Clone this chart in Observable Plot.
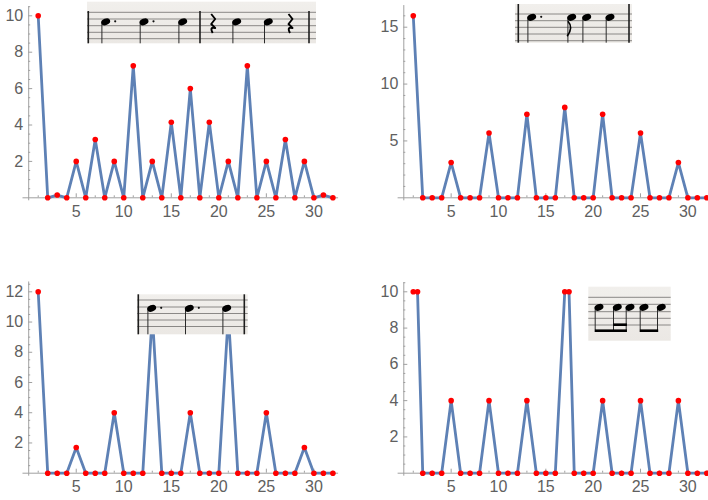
<!DOCTYPE html>
<html>
<head>
<meta charset="utf-8">
<script src="https://cdn.jsdelivr.net/npm/d3@7"></script>
<script src="https://cdn.jsdelivr.net/npm/@observablehq/plot@0.6"></script>
<style>
  html, body { margin: 0; padding: 0; background: #fff; }
  #wrap { position: relative; width: 708px; height: 500px; overflow: hidden; }
  .panel { position: absolute; width: 354px; height: 250px; }
  .panel svg { overflow: visible; }
  #music { position: absolute; left: 0; top: 0; }
</style>
</head>
<body>
<div id="wrap"></div>
<script>
// ---- data ----
const xs = d3.range(1, 33);
const panel1Y = [10,0,0.15,0,2,0,3.2,0,2,0,7.25,0,2,0,4.15,0,6,0,4.15,0,2,0,7.25,0,2,0,3.2,0,2,0,0.15,0];
const panel2Y = [16,0,0,0,3.1,0,0,0,5.7,0,0,0,7.35,0,0,0,7.95,0,0,0,7.35,0,0,0,5.7,0,0,0,3.1,0,0,0];
const panel3Y = [12,0,0,0,1.7,0,0,0,4,0,0,0,10.5,0,0,0,4,0,0,0,10.5,0,0,0,4,0,0,0,1.7,0,0,0];
const panel4X = [1,1.45,2,3,4,5,6,7,8,9,10,11,12,13,14,15,16,17,17.45,18,19,20,21,22,23,24,25,26,27,28,29,30,31,32];
const panel4Y = [10,10,0,0,0,4,0,0,0,4,0,0,0,4,0,0,0,10,10,0,0,0,4,0,0,0,4,0,0,0,4,0,0,0];

const xMajor = [5,10,15,20,25,30];
const xMinor = d3.range(1, 33).filter(d => d % 5 !== 0);
const yMajorA = [2,4,6,8,10];
const yMinorA = d3.range(0.5, 10.6, 0.5).filter(d => d % 2 !== 0);
const yMajorB = [5,10,15];
const yMinorB = d3.range(1, 17).filter(d => d % 5 !== 0);
const yMajorC = [2,4,6,8,10,12];
const yMinorC = d3.range(0.5, 12.6, 0.5).filter(d => d % 2 !== 0);

const panels = [
  {left: 0,   top: 0,   xv: xs, yv: panel1Y, yMax: 10, yTop: 10.5, yMajor: yMajorA, yMinor: yMinorA,
   m: {l: 28.2, r: 21.6, t: 15.3, b: 52.7}},
  {left: 354, top: 0,   xv: xs, yv: panel2Y, yMax: 15, yTop: 16.9, yMajor: yMajorB, yMinor: yMinorB,
   m: {l: 49.3, r: 1.7, t: 26.7, b: 52.7}},
  {left: 0,   top: 250, xv: xs, yv: panel3Y, yMax: 12, yTop: 12.65, yMajor: yMajorC, yMinor: yMinorC,
   m: {l: 28.2, r: 21.6, t: 41.3, b: 27.3}},
  {left: 354, top: 250, xv: panel4X, yv: panel4Y, yMax: 10, yTop: 10.5, yMajor: yMajorA, yMinor: yMinorA,
   m: {l: 49.3, r: 1.7, t: 41.3, b: 27.3}}
];

const wrap = document.getElementById("wrap");
const axisGray = "#a0a0a0";
const labelGray = "#606060";

for (const p of panels) {
  const data = p.xv.map((x, i) => ({x, y: p.yv[i]}));
  const yLow = -6 / ((250 - p.m.t - p.m.b) / p.yMax) * 0.5;
  const chart = Plot.plot({
    width: 354, height: 250,
    marginLeft: p.m.l, marginRight: p.m.r, marginTop: p.m.t, marginBottom: p.m.b,
    x: {domain: [0, 32], label: null},
    y: {domain: [0, p.yMax], label: null},
    style: {fontFamily: "'Liberation Sans', Arial, sans-serif", fontSize: "16px", color: labelGray, background: "transparent"},
    marks: [
      Plot.ruleY([0], {x1: -0.6, x2: 32.6, stroke: axisGray, strokeWidth: 1}),
      Plot.ruleX([0], {y1: yLow, y2: p.yTop, stroke: axisGray, strokeWidth: 1}),
      Plot.axisX({ticks: xMajor, tickSize: -4, tickPadding: 11.5, stroke: axisGray, fill: labelGray, label: null}),
      Plot.axisX({ticks: xMinor, tickSize: -2, tickFormat: () => "", stroke: axisGray, label: null}),
      Plot.axisY({ticks: p.yMajor, tickSize: -4, tickPadding: 9.5, stroke: axisGray, fill: labelGray, label: null}),
      Plot.axisY({ticks: p.yMinor, tickSize: -2, tickFormat: () => "", stroke: axisGray, label: null}),
      Plot.line(data, {x: "x", y: "y", stroke: "#5E81B5", strokeWidth: 2.8}),
      Plot.dot(data, {x: "x", y: "y", r: 2.8, fill: "#ff0000", stroke: "none"})
    ]
  });
  const div = document.createElement("div");
  div.className = "panel";
  div.style.left = p.left + "px";
  div.style.top = p.top + "px";
  div.appendChild(chart);
  wrap.appendChild(div);
}

// ---- music notation insets (decorative pictures) ----
const svg = d3.select(wrap).append("svg").attr("id", "music")
  .attr("width", 708).attr("height", 500);
const defs = svg.append("defs");
const grad = defs.append("linearGradient").attr("id", "paper").attr("x1", 0).attr("y1", 0).attr("x2", 0).attr("y2", 1);
grad.append("stop").attr("offset", "0%").attr("stop-color", "#f1efec");
grad.append("stop").attr("offset", "100%").attr("stop-color", "#ebe8e4");

function inset(cfg) {
  const g = svg.append("g");
  g.append("rect").attr("x", cfg.x0).attr("y", cfg.y0).attr("width", cfg.x1 - cfg.x0).attr("height", cfg.y1 - cfg.y0)
    .attr("fill", "url(#paper)");
  for (const ly of cfg.lines) {
    g.append("line").attr("x1", cfg.x0).attr("x2", cfg.x1).attr("y1", ly).attr("y2", ly)
      .attr("stroke", "#8a8886").attr("stroke-width", 1);
  }
  for (const bx of cfg.bars) {
    g.append("line").attr("x1", bx).attr("x2", bx).attr("y1", cfg.barTop).attr("y2", cfg.y1)
      .attr("stroke", "#1e1e1e").attr("stroke-width", 1.6);
  }
  for (const n of cfg.notes) {
    const stemBottom = n.stemTo !== undefined ? n.stemTo : cfg.y1;
    g.append("line").attr("x1", n.x - 3.8).attr("x2", n.x - 3.8).attr("y1", cfg.ny).attr("y2", stemBottom)
      .attr("stroke", "#2a2a2a").attr("stroke-width", 1);
    g.append("ellipse").attr("cx", n.x).attr("cy", cfg.ny).attr("rx", 4.6).attr("ry", 3.2)
      .attr("transform", `rotate(-22 ${n.x} ${cfg.ny})`).attr("fill", "#000");
    if (n.dot) g.append("circle").attr("cx", n.x + 9.5).attr("cy", cfg.ny - 0.5).attr("r", 1.1).attr("fill", "#111");
    if (n.flag) g.append("path")
      .attr("d", `M${n.x - 3.8},${cfg.ny + 4} Q${n.x + 2},${cfg.ny + 10} ${n.x - 4.5},${cfg.ny + 19}`)
      .attr("fill", "none").attr("stroke", "#000").attr("stroke-width", 1.6);
  }
  for (const r of cfg.rests || []) {
    const y = r.y;
    g.append("path")
      .attr("d", `M${r.x - 1.5},${y - 9} L${r.x + 2.5},${y - 4} L${r.x - 1.5},${y + 1} L${r.x + 2.5},${y + 5} Q${r.x - 3.5},${y + 3.5} ${r.x},${y + 10}`)
      .attr("fill", "none").attr("stroke", "#000").attr("stroke-width", 1.9).attr("stroke-linejoin", "round");
  }
  for (const b of cfg.beams || []) {
    g.append("rect").attr("x", b.x1).attr("y", b.y).attr("width", b.x2 - b.x1).attr("height", 2.6).attr("fill", "#000");
  }
}

inset({x0: 87, x1: 316, y0: 1.7, y1: 43.3, lines: [12.3, 19, 25.7, 32.3, 38.7], bars: [88.3, 200, 309], barTop: 11,
  ny: 21.8,
  notes: [{x: 105.7, dot: true}, {x: 144, dot: true}, {x: 182.7}, {x: 236.7}, {x: 268.3}],
  rests: [{x: 212.7, y: 23}, {x: 290, y: 23}]});

inset({x0: 515, x1: 632, y0: 4, y1: 42.7, lines: [14, 20.7, 27.3, 34, 40.7], bars: [518.3, 629], barTop: 4,
  ny: 17.3,
  notes: [{x: 531.7, dot: true}, {x: 571.7, flag: true}, {x: 586.7}, {x: 610}]});

inset({x0: 137.3, x1: 247.7, y0: 294.3, y1: 334.3, lines: [300, 307, 313.5, 320, 326.5], bars: [138.3, 244.3], barTop: 294.3,
  ny: 308.3,
  notes: [{x: 151.7, dot: true}, {x: 189.3, dot: true}, {x: 226.7}]});

inset({x0: 588.3, x1: 670.7, y0: 286.7, y1: 340.7, lines: [297.3, 304.3, 311.7, 318.3, 325], bars: [], barTop: 0,
  ny: 307.3,
  notes: [{x: 599, stemTo: 332}, {x: 617.3, stemTo: 332}, {x: 630, stemTo: 332}, {x: 644, stemTo: 332}, {x: 661.3, stemTo: 332}],
  beams: [{x1: 594.9, x2: 626.9, y: 329.4}, {x1: 613.2, x2: 626.9, y: 323.4}, {x1: 639.9, x2: 658.2, y: 329.4}]});
</script>
</body>
</html>
